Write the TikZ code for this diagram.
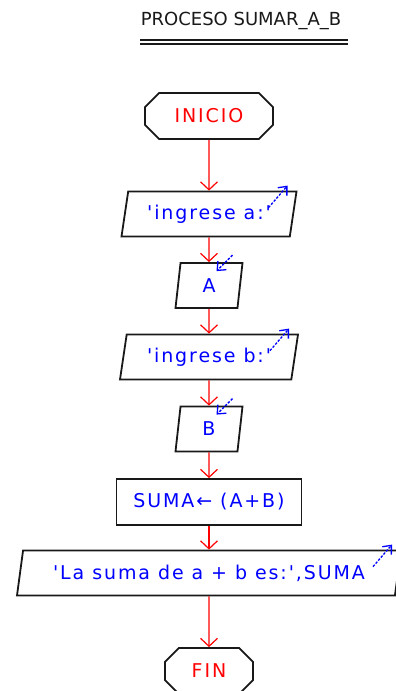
\documentclass[tikz,border=0pt]{standalone}
\usepackage{fontspec}
\usetikzlibrary{shapes.geometric,shapes.misc,arrows.meta,calc}
\newfontfamily\dfdfont{DejaVu Sans}[LetterSpace=10]
\newfontfamily\titlefont{DejaVu Sans}
\definecolor{dfdred}{RGB}{255,0,0}
\definecolor{dfdblue}{RGB}{0,0,255}
\definecolor{dfdline}{RGB}{25,25,25}

\begin{document}
\begin{tikzpicture}[x=1pt,y=-1pt,>={Straight Barb[length=8pt,width=17pt]},
  txt/.style={font=\dfdfont\fontsize{19}{22}\selectfont, text=dfdblue},
  term/.style={txt, text=dfdred, chamfered rectangle, chamfered rectangle xsep=9pt,
    chamfered rectangle ysep=7pt, draw=dfdline, line width=1.8pt, inner sep=0pt,
    minimum height=46pt},
  io/.style={txt, trapezium, trapezium left angle=70, trapezium right angle=110,
    trapezium stretches body, draw=dfdline, line width=1.8pt, inner sep=0pt,
    minimum height=45pt},
  proc/.style={txt, rectangle, draw=dfdline, line width=1.8pt, inner sep=0pt,
    minimum width=185pt, minimum height=46pt},
  link/.style={->, draw=dfdred, line width=1.2pt},
  iomark/.style={dfdblue, dash pattern=on 2.5pt off 1.5pt, line width=1.3pt,
    -{Straight Barb[length=7pt,width=12pt]}}]
\useasboundingbox (0,0) rectangle (396,691);

% titulo
\node[font=\titlefont\fontsize{18}{20}\selectfont, text=dfdline] (titulo) at (241,21) {PROCESO SUMAR\_A\_B};
\coordinate (subL) at (140,42);
\coordinate (subR) at (348,42);
\draw[dfdline, double, double distance=1.4pt, line width=1.9pt] (subL) -- (subR);

% diagrama
\node[term, minimum width=128pt] (inicio) at (209,116) {INICIO};
\node[io, minimum width=175pt] (ina) at (209,214) {'ingrese a:'};
\node[io, minimum width=67pt] (a) at (209,285.5) {A};
\node[io, minimum width=178pt] (inb) at (209,357) {'ingrese b:'};
\node[io, minimum width=67pt] (b) at (209,429) {B};
\node[proc] (suma) at (209,502) {SUMA← (A+B)};
\node[io, minimum width=384pt] (out) at (209,573) {'La suma de a + b es:',SUMA};
\node[term, minimum width=88pt] (fin) at (209,671) {FIN};

\draw[link] (inicio) -- (ina);
\draw[link] (ina) -- (a);
\draw[link] (a) -- (inb);
\draw[link] (inb) -- (b);
\draw[link] (b) -- (suma);
\draw[link] (suma) -- (out);
\draw[link] (out) -- (fin);

% marcas de entrada / salida
\foreach \n in {ina,inb,out}
  \draw[iomark] ($(\n.top right corner)+(-29,17)$) -- ($(\n.top right corner)+(-10,-5)$);
\foreach \n in {a,b}
  \draw[iomark] ($(\n.top right corner)+(-11,-7)$) -- ($(\n.top right corner)+(-27,9)$);
\end{tikzpicture}
\end{document}
